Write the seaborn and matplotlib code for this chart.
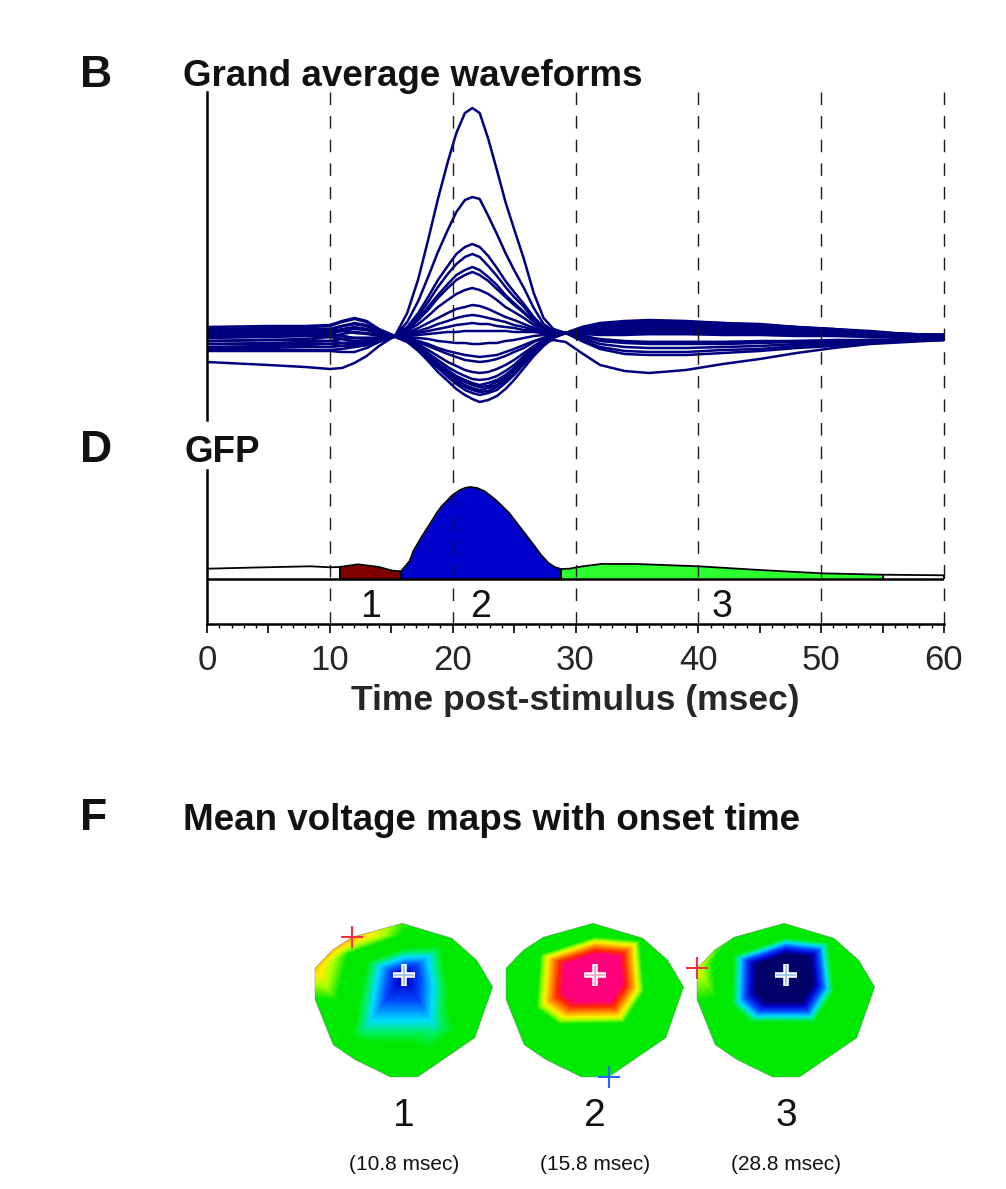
import matplotlib
matplotlib.use('Agg')
import matplotlib.pyplot as plt
import matplotlib.tri as mtri
from matplotlib.colors import LinearSegmentedColormap
import numpy as np
import pandas as pd
import seaborn as sns

# ---- data ----
times = [0, 5, 8, 10, 11, 12, 13, 14,
         15.3, 16.3, 17.2, 18, 18.8, 19.6, 20.3, 21, 21.6, 22.2, 22.9, 23.6, 24.3,
         25, 25.8, 26.6, 27.4, 28.2, 29.2,
         30.5, 32, 34, 36, 39, 42, 45, 48, 51, 54, 57, 60]

# channels with a positive peak around 21.5 msec
pos_channels = [
    [6, 7, 8, 9, 12, 15, 13, 7, 2, 25, 59, 98, 139, 176, 205, 225, 230, 225, 199, 168, 136,
     109, 79, 45, 20, 9, 5, 9, 13, 15, 15, 14, 13, 12, 10, 8, 6, 4, 3],
    [2, 3, 4, 6, 9, 11, 9, 5, 2, 16, 37, 61, 86, 108, 126, 138, 141, 139, 122, 104, 85,
     68, 50, 30, 14, 7, 5, 8, 11, 12, 12, 11, 10, 9, 8, 6, 5, 3, 2],
    [9, 10, 11, 12, 16, 19, 16, 8, 2, 11, 25, 41, 58, 72, 84, 91, 94, 91, 82, 70, 57,
     46, 34, 21, 11, 6, 5, 10, 14, 16, 17, 16, 15, 13, 11, 9, 6, 4, 3],
    [-3, -2, -1, 1, 4, 6, 5, 3, 2, 10, 22, 36, 51, 64, 74, 81, 84, 81, 72, 62, 51,
     41, 31, 19, 10, 6, 5, 7, 8, 9, 10, 9, 9, 8, 7, 5, 4, 3, 2],
    [5, 6, 7, 8, 12, 14, 12, 6, 2, 9, 19, 31, 43, 54, 63, 68, 71, 68, 61, 53, 43,
     35, 26, 17, 9, 6, 5, 9, 12, 13, 14, 13, 12, 11, 9, 7, 5, 4, 3],
    [0, 1, 2, 4, 7, 9, 8, 4, 2, 8, 18, 28, 40, 50, 58, 63, 66, 63, 57, 49, 41,
     33, 25, 16, 9, 6, 5, 6, 7, 8, 8, 8, 8, 7, 6, 5, 4, 2, 1],
    [11, 12, 12, 13, 17, 20, 17, 9, 2, 7, 14, 22, 31, 38, 44, 48, 50, 48, 44, 38, 31,
     26, 20, 13, 8, 6, 5, 11, 15, 17, 18, 17, 15, 14, 11, 9, 7, 4, 3],
    [-6, -5, -4, -3, -1, 0, 0, 0, 2, 5, 10, 15, 20, 25, 29, 31, 33, 32, 29, 25, 21,
     18, 14, 10, 7, 5, 5, 4, 3, 3, 4, 4, 3, 3, 2, 2, 1, 1, 0],
    [3, 4, 5, 6, 8, 10, 9, 5, 2, 4, 7, 10, 14, 17, 20, 22, 23, 22, 20, 18, 16,
     13, 11, 8, 6, 5, 5, 8, 10, 11, 11, 10, 9, 8, 7, 5, 4, 3, 2],
    [7, 8, 8, 9, 12, 14, 12, 6, 2, 3, 5, 7, 9, 11, 13, 14, 15, 14, 14, 12, 11,
     10, 8, 7, 5, 5, 5, 10, 13, 15, 15, 14, 12, 11, 9, 7, 5, 4, 3],
    [-9, -8, -7, -6, -5, -4, -3, -1, 2, 2, 3, 4, 5, 6, 6, 7, 7, 7, 7, 7, 7,
     6, 6, 6, 5, 5, 5, 2, -1, -3, -4, -4, -4, -3, -3, -2, -2, -1, -1],
]
# channels with a negative trough around 22 msec
neg_channels = [
    [1, 2, 2, 1, -1, -3, -2, 0, 2, 1, 0, -1, -3, -4, -5, -5, -6, -6, -5, -5, -3,
     -2, 0, 2, 3, 4, 5, 6, 6, 6, 6, 6, 5, 5, 4, 3, 2, 2, 1],
    [-10, -10, -9, -9, -8, -6, -4, -2, 2, 0, -3, -6, -10, -13, -15, -17, -18, -19, -18, -17, -14,
     -11, -7, -3, 0, 3, 5, 0, -6, -9, -10, -10, -9, -8, -6, -4, -3, -2, -1],
    [4, 5, 5, 4, 2, 0, 0, 0, 2, 0, -4, -8, -12, -16, -19, -22, -23, -24, -23, -21, -18,
     -14, -10, -4, 0, 3, 5, 7, 8, 8, 8, 8, 7, 6, 5, 4, 3, 2, 1],
    [-12, -12, -12, -12, -11, -9, -7, -3, 2, -1, -6, -12, -18, -24, -28, -32, -34, -35, -34, -31, -27,
     -22, -15, -8, -2, 2, 5, -2, -9, -13, -14, -14, -12, -11, -8, -6, -4, -3, -2],
    [2, 3, 3, 2, -1, -4, -3, -1, 2, -2, -8, -15, -22, -29, -34, -38, -41, -42, -41, -38, -33,
     -27, -18, -10, -4, 2, 5, 5, 4, 4, 4, 4, 4, 4, 3, 3, 2, 2, 1],
    [-6, -6, -5, -6, -8, -9, -7, -3, 2, -2, -9, -17, -25, -32, -38, -42, -45, -47, -45, -42, -37,
     -30, -21, -12, -4, 1, 5, 2, -3, -5, -6, -6, -6, -5, -4, -3, -2, -2, -1],
    [8, 9, 10, 9, 7, 5, 4, 2, 2, -2, -10, -19, -28, -36, -42, -47, -50, -52, -50, -47, -41,
     -33, -23, -14, -5, 1, 5, 9, 12, 13, 13, 13, 11, 10, 8, 6, 5, 3, 3],
    [-3, -2, -2, -3, -5, -7, -5, -2, 2, -3, -11, -21, -30, -39, -46, -52, -55, -57, -55, -52, -45,
     -37, -26, -15, -6, 1, 5, 3, -2, -4, -4, -4, -4, -4, -3, -3, -2, -2, -1],
    [-13, -13, -13, -13, -14, -14, -10, -4, 1, -4, -13, -23, -34, -43, -51, -57, -61, -64, -62, -58, -51,
     -42, -30, -18, -8, 0, 5, -3, -11, -16, -17, -17, -15, -13, -10, -8, -5, -3, -2],
    [4, 5, 5, 4, 2, 0, 0, 0, 2, -3, -10, -20, -29, -37, -44, -49, -52, -54, -53, -49, -43,
     -35, -25, -15, -6, 1, 5, 5, 6, 6, 6, 6, 5, 5, 4, 3, 2, 2, 1],
    [-24, -27, -29, -31, -30, -25, -18, -8, 2, -2, -9, -18, -26, -34, -40, -44, -47, -49, -48, -44, -39,
     -32, -22, -13, -5, -2, -4, -15, -27, -33, -35, -32, -26, -21, -15, -10, -6, -4, -2],
]

gfp_time = [0, 4, 8.4, 10, 10.8, 12.3, 14, 15.1, 15.8, 16.5, 16.8, 17.5, 18.3, 18.7, 19.1, 20,
            20.6, 21.0, 21.4, 22, 22.6, 23.1, 23.6, 24.6, 25.1, 25.6, 26.1, 26.6, 27.2, 27.8,
            28.3, 28.8, 29.5, 30.5, 32.1, 35, 40, 45, 50, 55, 60]
gfp_value = [10.3, 11.5, 12.7, 11.7, 12, 14.7, 12, 8.3, 7.7, 18, 28, 42.7, 58, 66, 72.7, 84,
             89, 91, 92, 91, 87.7, 83, 78, 66, 58, 50, 42, 34, 24, 16,
             12, 10, 10.3, 12.5, 15, 15, 12.7, 9, 5.7, 4.3, 3.7]

seg_bounds = [0, 10.8, 15.8, 28.8, 55, 60]
seg_colors = ['white', '#800000', '#0000CD', '#2EFF2E', 'white']
seg_labels = ['', '1', '2', '3', '']

# electrode layout of the voltage maps (offsets from map centre, y downwards)
elec_x = [-2, 48, 73, 89, 71, 14, -14, -49, -71, -89, -89, -72, -52,
          -56, 0, 51, 30, -37, 0, -3, -62]
elec_y = [-77, -62, -40, -13, 38, 77, 77, 60, 45, 0, -32, -50, -63,
          -46, -65, -8, 25, 25, -25, 52, 10]
map1_values = [0.2, 0.0, -0.02, 0.0, 0.0, 0.02, 0.0, 0.0, 0.02, 0.12, 0.5, 0.52, 0.56,
               0.15, 0.12, -0.1, -0.4, -0.4, -0.9, -0.1, 0.05]
map2_values = [0.05, 0.02, 0.0, 0.0, -0.05, -0.25, -0.1, -0.05, 0.0, 0.02, 0.05, 0.08, 0.06,
               0.12, 0.08, 0.08, 0.08, 0.12, 2.0, -0.02, 0.05]
map3_values = [0.05, 0.02, 0.0, 0.0, 0.0, 0.0, 0.0, 0.02, 0.05, 0.15, 0.38, 0.25, 0.15,
               -0.1, -0.1, -0.1, -0.12, -0.12, -2.0, -0.05, 0.05]
map_onsets = [10.8, 15.8, 28.8]

# ---- figure ----
sns.set_theme(style='white')
plt.rcParams['font.family'] = ['Liberation Sans', 'DejaVu Sans']

W, H = 1006, 1189
fig = plt.figure(figsize=(W / 100, H / 100), dpi=100)


def px_box(x0, y0, x1, y1):
    return [x0 / W, 1 - y1 / H, (x1 - x0) / W, (y1 - y0) / H]


def fig_text(x, y, s, **kw):
    fig.text(x / W, 1 - y / H, s, va='baseline', **kw)


dash = (0, (9, 8))

# B: grand average waveforms
ax_w = fig.add_axes(px_box(207, 92, 944, 470))
rows = []
for i, ch in enumerate(pos_channels + neg_channels):
    for t, v in zip(times, ch):
        rows.append({'channel': i, 'time': t, 'uv': v})
df = pd.DataFrame(rows)
sns.lineplot(data=df, x='time', y='uv', units='channel', estimator=None,
             color='#00007F', lw=1.8, ax=ax_w, legend=False)
ax_w.set_xlim(0, 60)
ax_w.set_ylim(-132, 246)
ax_w.vlines(range(10, 61, 10), 246, -132, colors='#1a1a1a', lw=1.0,
            linestyles=dash, clip_on=False, zorder=5)
for s in ['top', 'right', 'bottom']:
    ax_w.spines[s].set_visible(False)
ax_w.spines['left'].set_bounds(-82, 246)
ax_w.spines['left'].set_color('black')
ax_w.spines['left'].set_linewidth(1.8)
ax_w.set_xticks([])
ax_w.set_yticks([])
ax_w.set_xlabel('')
ax_w.set_ylabel('')
ax_w.patch.set_alpha(0)

# D: GFP
ax_g = fig.add_axes(px_box(207, 470, 944, 624))
gt = np.array(gfp_time)
gv = np.array(gfp_value)
for a, b, c, lab in zip(seg_bounds[:-1], seg_bounds[1:], seg_colors, seg_labels):
    m = (gt >= a) & (gt <= b)
    ax_g.fill_between(gt[m], 0, gv[m], color=c, lw=0, zorder=1)
    if lab:
        ax_g.text((a + b) / 2, -38, lab, ha='center', va='baseline', fontsize=27,
                  color='#111111')
sns.lineplot(x=gfp_time, y=gfp_value, color='black', lw=1.3, ax=ax_g, zorder=3)
bound_t = seg_bounds[1:]
bound_v = [gfp_value[gfp_time.index(b)] for b in bound_t]
ax_g.vlines(bound_t, 0, bound_v, colors='black', lw=1.5, zorder=3, clip_on=False)
ax_g.axhline(0, color='black', lw=1.8, zorder=4)
ax_g.vlines(range(10, 61, 10), 109, -45, colors='#1a1a1a', lw=1.0,
            linestyles=dash, clip_on=False, zorder=5)
ax_g.set_xlim(0, 60)
ax_g.set_ylim(-45, 109)
for s in ['top', 'right']:
    ax_g.spines[s].set_visible(False)
for s in ['left', 'bottom']:
    ax_g.spines[s].set_color('black')
    ax_g.spines[s].set_linewidth(1.8)
ax_g.set_yticks([])
ax_g.set_xticks(range(0, 61, 5))
ax_g.set_xticklabels([str(v) if v % 10 == 0 else '' for v in range(0, 61, 5)])
ax_g.set_xticks(range(0, 61), minor=True)
ax_g.tick_params(axis='x', which='major', bottom=True, direction='out', length=6.5,
                 width=1.2, color='black', labelsize=25, pad=8)
ax_g.tick_params(axis='x', which='minor', bottom=True, direction='out', length=3,
                 width=1.0, color='black')
ax_g.set_ylabel('')
ax_g.set_xlabel('Time post-stimulus (msec)', fontsize=25.5, fontweight='bold',
                labelpad=5)
ax_g.patch.set_alpha(0)

# F: mean voltage maps
topo_cmap = LinearSegmentedColormap.from_list('topo', [
    (0.0, (0, 0, 105 / 255)),
    (0.075, (0, 0, 200 / 255)),
    (0.175, (0, 70 / 255, 1)),
    (0.275, (0, 220 / 255, 1)),
    (0.35, (0, 240 / 255, 80 / 255)),
    (0.4, (0, 233 / 255, 0)),
    (0.575, (0, 233 / 255, 0)),
    (0.65, (170 / 255, 1, 0)),
    (0.71, (1, 240 / 255, 0)),
    (0.8, (1, 140 / 255, 0)),
    (0.9, (1, 40 / 255, 0)),
    (1.0, (1, 0, 125 / 255)),
])

ax_m = fig.add_axes(px_box(290, 900, 900, 1189))
ex = np.array(elec_x)
ey = np.array(elec_y)
for i, vals in enumerate([map1_values, map2_values, map3_values]):
    cx, cy = 404 + 191 * i, 1000
    vals = np.array(vals, dtype=float)
    tri = mtri.Triangulation(cx + ex, cy + ey)
    gx = np.arange(cx - 92, cx + 92.01, 0.5)
    gy = np.arange(cy - 80, cy + 80.01, 0.5)
    GX, GY = np.meshgrid(gx, gy)
    Z = mtri.LinearTriInterpolator(tri, vals)(GX, GY)
    ax_m.imshow(Z, extent=(gx[0], gx[-1], gy[-1], gy[0]), origin='upper',
                cmap=topo_cmap, vmin=-1, vmax=1, interpolation='bilinear')
    for k, base in [(int(np.argmax(vals)), '#EE3344'), (int(np.argmin(vals)), '#2266FF')]:
        px, py = cx + ex[k], cy + ey[k]
        if abs(vals[k]) > 0.8:
            ax_m.plot(px, py, marker='+', ms=16.5, mew=4, color='white')
            inner = '#F4A9C4' if base == '#EE3344' else '#9DC3F2'
            ax_m.plot(px, py, marker='+', ms=15, mew=1.3, color=inner)
        else:
            ax_m.plot(px, py, marker='+', ms=16.5, mew=1.5, color=base)
    ax_m.text(cx, 1126, str(i + 1), ha='center', va='baseline', fontsize=28,
              color='#111111')
    ax_m.text(cx, 1170, f'({map_onsets[i]} msec)', ha='center', va='baseline',
              fontsize=15, color='#111111')
ax_m.set_aspect('auto')
ax_m.set_xlim(290, 900)
ax_m.set_ylim(1189, 900)
ax_m.axis('off')

# panel letters and titles
fig_text(80, 87, 'B', fontsize=32, fontweight='bold', color='#111111')
fig_text(183, 86, 'Grand average waveforms', fontsize=26.5, fontweight='bold', color='#111111')
fig_text(80, 462, 'D', fontsize=32, fontweight='bold', color='#111111')
fig_text(184, 462, 'GFP', fontsize=26.5, fontweight='bold', color='#111111')
fig_text(80, 830, 'F', fontsize=32, fontweight='bold', color='#111111')
fig_text(183, 830, 'Mean voltage maps with onset time', fontsize=26.5, fontweight='bold',
         color='#111111')

fig.savefig('out.png', dpi=100)
